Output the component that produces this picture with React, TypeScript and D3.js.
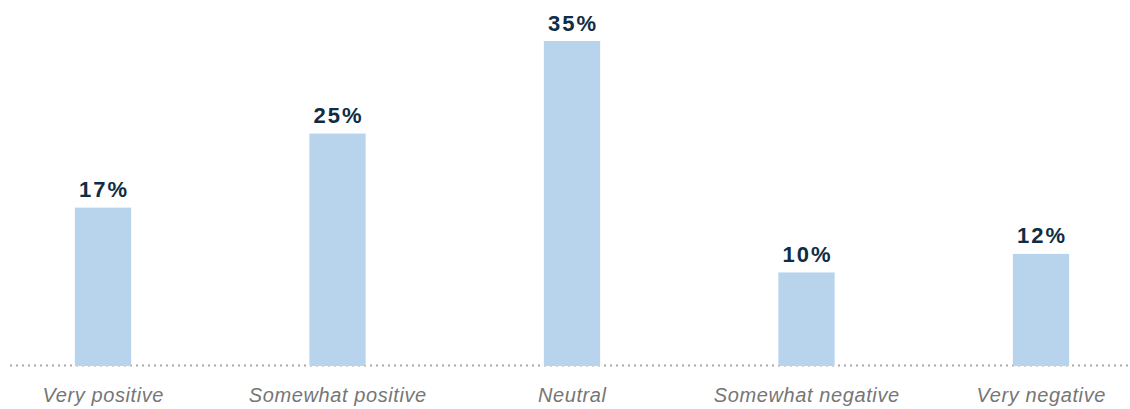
import React from "react";
import * as d3 from "d3";

const categories = ["Very positive", "Somewhat positive", "Neutral", "Somewhat negative", "Very negative"];
const values = [17, 25, 35, 10, 12];

const W = 1130;
const H = 409;
const baseY = 365;

export default function App() {
  const x = d3
    .scaleBand<string>()
    .domain(categories)
    .range([-14.25, 1158.25])
    .paddingInner(0.76)
    .paddingOuter(0.38);
  const y = d3.scaleLinear().domain([0, 35]).range([baseY, 41]);
  const font = "'Liberation Sans', Arial, Helvetica, sans-serif";
  const valueSpacing = 2;
  const labelSpacing = 0.6;

  return (
    <svg
      width={W}
      height={H}
      style={{ position: "absolute", left: 0, top: 0, background: "#fff" }}
    >
      <line
        x1={10}
        x2={W}
        y1={baseY + 0.5}
        y2={baseY + 0.5}
        stroke="#a9a9a9"
        strokeWidth={2}
        strokeDasharray="2,4"
      />
      {categories.map((c, i) => {
        const bx = x(c) as number;
        const bw = x.bandwidth();
        const cx = bx + bw / 2;
        return (
          <g key={c}>
            <rect x={bx} y={y(values[i])} width={bw} height={baseY + 1 - y(values[i])} fill="#b8d4ec" />
            <text
              x={cx + valueSpacing / 2}
              y={y(values[i]) - 10.5}
              textAnchor="middle"
              fontFamily={font}
              fontWeight="bold"
              fontSize={22}
              letterSpacing={valueSpacing}
              fill="#0f2d45"
            >
              {`${values[i]}%`}
            </text>
            <text
              x={cx + labelSpacing / 2}
              y={401.5}
              textAnchor="middle"
              fontFamily={font}
              fontStyle="italic"
              fontSize={20}
              letterSpacing={labelSpacing}
              fill="#767676"
            >
              {c}
            </text>
          </g>
        );
      })}
    </svg>
  );
}
